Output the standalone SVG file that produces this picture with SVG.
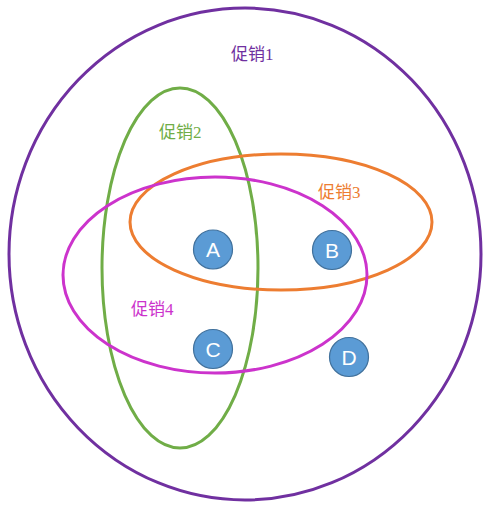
<svg xmlns="http://www.w3.org/2000/svg" width="490" height="512" viewBox="0 0 490 512">
<style>
.set{fill:none;stroke-width:3}
.lbl{font-family:"Liberation Serif","Noto Sans CJK SC",serif;font-size:17px}
.pt circle{fill:#5B9BD5;stroke:#41719C;stroke-width:1.2}
.pt text{font-family:"Liberation Sans","Noto Sans",sans-serif;font-size:21px;fill:#fff;text-anchor:middle}
</style>
<rect width="490" height="512" fill="#fff"/>
<g id="promo1">
<ellipse class="set" cx="245" cy="254" rx="236" ry="246" stroke="#7030A0"/>
<text class="lbl" x="231" y="60" fill="#7030A0">促销1</text>
</g>
<g id="promo2">
<ellipse class="set" cx="180" cy="268" rx="78" ry="180" stroke="#70AD47"/>
<text class="lbl" x="159" y="138" fill="#70AD47">促销2</text>
</g>
<g id="promo3">
<ellipse class="set" cx="281" cy="222" rx="151" ry="68" stroke="#ED7D31"/>
<text class="lbl" x="318" y="198" fill="#ED7D31">促销3</text>
</g>
<g id="promo4">
<ellipse class="set" cx="215" cy="275" rx="152" ry="98" stroke="#CC33CC"/>
<text class="lbl" x="131" y="315" fill="#CC33CC">促销4</text>
</g>
<g id="A" class="pt"><circle cx="213" cy="249.5" r="19.5"/><text x="213" y="257">A</text></g>
<g id="B" class="pt"><circle cx="332" cy="250" r="19.5"/><text x="332" y="257.5">B</text></g>
<g id="C" class="pt"><circle cx="213" cy="349" r="19.5"/><text x="213" y="356.5">C</text></g>
<g id="D" class="pt"><circle cx="349" cy="357" r="19.5"/><text x="349" y="364.5">D</text></g>
<g id="connectors"></g>
</svg>
